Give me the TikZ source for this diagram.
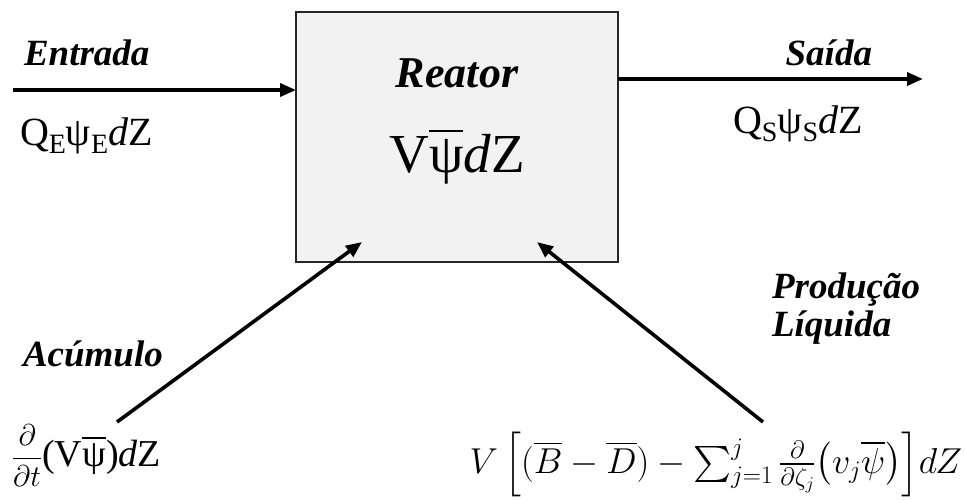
\RequirePackage{fix-cm}
\documentclass[tikz,border=0pt]{standalone}
\usepackage{amsmath,amssymb}
\usepackage{fontspec}
\setmainfont{Liberation Serif}
\usepackage{tikz}
\usetikzlibrary{arrows.meta,positioning}

\newcommand{\psibar}{\ensuremath{\overline{\text{ψ}}}}
\newcommand{\idx}[1]{\raisebox{-0.22em}{\fontsize{28}{28}\selectfont #1}}

\begin{document}
\begin{tikzpicture}[x=1pt,y=-1pt,every node/.style={inner sep=0pt,outer sep=0pt},reactor/.style={draw=black!85,line width=1.2pt,fill=black!5,minimum width=322pt,minimum height=250pt},tag/.style={font=\fontsize{#1}{38}\selectfont\bfseries\itshape,align=left},tag/.default=37,term/.style={font=\fontsize{#1}{#1}\selectfont},term/.default=40,flow/.style={-{Triangle[length=16pt,width=13pt]},line width=3.6pt,black}]
\useasboundingbox (0,0) rectangle (965,499);
\node[reactor] (reator) at (457,137) {};
\node[tag=44,anchor=base] (nome) at (457,87) {Reator};
\node[term=55,anchor=base] (conteudo) at (457,172) {V\psibar\textit{d}Z};
% entrada e saida
\coordinate (ein) at (13,90);
\coordinate (sout) at (923,79);
\draw[flow] (ein) -- (ein -| reator.west);
\draw[flow] (reator.east |- sout) -- (sout);
\node[tag,anchor=base west] (entrada) at (24,65) {Entrada};
\node[term,anchor=base west] (qe) at (20,145) {Q\idx{E}ψ\idx{E}\textit{d}Z};
\node[tag,anchor=base east] (saida) at (872,65) {Saída};
\node[term,anchor=base west] (qs) at (733,133) {Q\idx{S}ψ\idx{S}\textit{d}Z};
% acumulo e producao
\coordinate (acc) at (117,422);
\coordinate (acctip) at (362,242);
\coordinate (prod) at (763,422);
\coordinate (prodtip) at (537,242);
\draw[flow] (acc) -- (acctip);
\draw[flow] (prod) -- (prodtip);
\node[tag,anchor=base west] (acumulo) at (23,366) {Acúmulo};
\node[term=38,anchor=base west] (dacc) at (12,466) {{\fontsize{30}{30}\selectfont$\dfrac{\partial}{\partial t}$}(V\psibar)\textit{d}Z};
\node[tag,anchor=base west] (producao) at (772,336) {Produção\\Líquida};
\node[term=36,anchor=base east] (dprod) at (962,473) {$V\left[(\overline{B}-\overline{D})-\sum_{j=1}^{j}\frac{\partial}{\partial\zeta_j}\bigl(v_j\overline{\psi}\bigr)\right]\!dZ$};
\end{tikzpicture}
\end{document}
